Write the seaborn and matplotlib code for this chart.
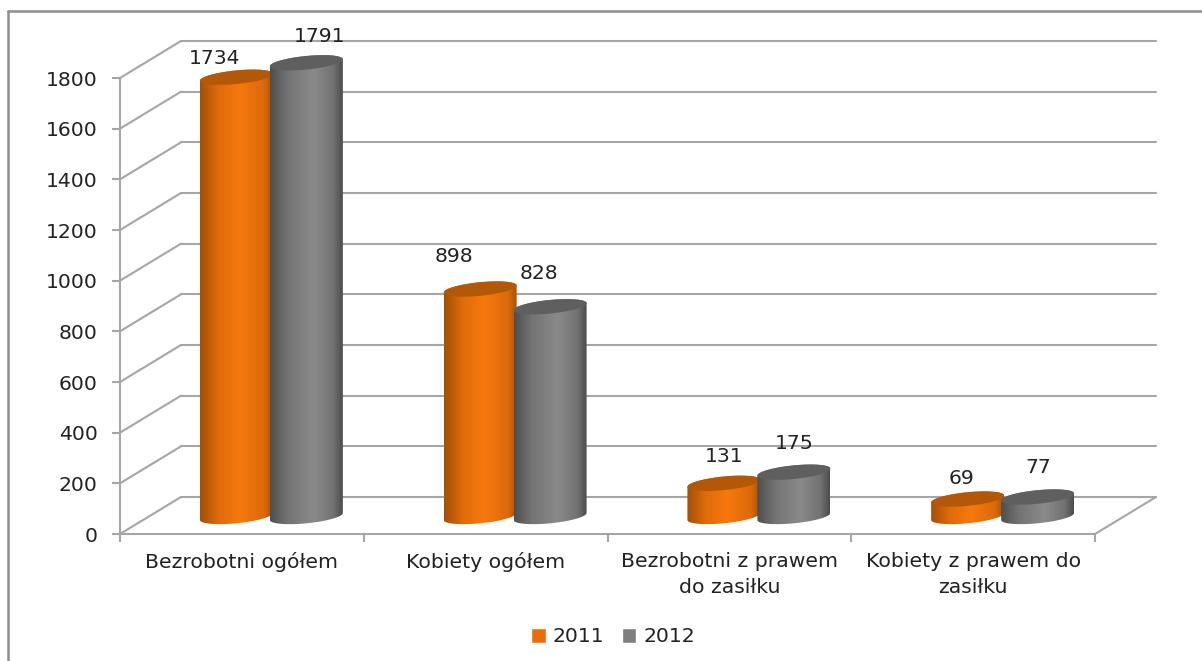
import numpy as np
import pandas as pd
import matplotlib
matplotlib.use('Agg')
import matplotlib.pyplot as plt
import seaborn as sns
from matplotlib.colors import LinearSegmentedColormap
from matplotlib.lines import Line2D
from matplotlib.patches import ConnectionPatch, Polygon

categories = ['Bezrobotni ogółem', 'Kobiety ogółem', 'Bezrobotni z prawem\ndo zasiłku', 'Kobiety z prawem do\nzasiłku']
years = ['2011', '2012']
values_2011 = [1734, 898, 131, 69]
values_2012 = [1791, 828, 175, 77]
y_ticks = [0, 200, 400, 600, 800, 1000, 1200, 1400, 1600, 1800]

W, H = 1202, 661
GRID = '#a6a6a6'
TEXT = '#222222'

sns.set_theme(style='white')
plt.rcParams['font.family'] = ['DejaVu Sans']

df = pd.DataFrame({
    'category': categories * 2,
    'year': [years[0]] * 4 + [years[1]] * 4,
    'value': values_2011 + values_2012,
})


# all three planes have the same size, only shifted for the fake depth
def plane(left, bottom_y, width=975, height=456):
    ax = fig.add_axes([left / W, 1 - bottom_y / H, width / W, height / H])
    ax.patch.set_alpha(0)
    ax.set_xlim(-0.5, 3.5)
    ax.set_ylim(0, 1800)
    return ax


fig = plt.figure(figsize=(W / 100, H / 100), dpi=100)
ax_back = plane(181, 497)
ax_front = plane(120, 534)
ax_bars = plane(149.5, 516.5)

# back wall
sns.despine(ax=ax_back, left=True, bottom=True)
ax_back.set_xticks([])
ax_back.set_yticks(y_ticks)
ax_back.tick_params(left=False, labelleft=False)
ax_back.grid(True, axis='y', color=GRID, lw=1.5)
for line in ax_back.get_ygridlines():
    line.set_clip_on(False)

# front axis
sns.despine(ax=ax_front)
for side in ['left', 'bottom']:
    ax_front.spines[side].set_color(GRID)
    ax_front.spines[side].set_linewidth(1.5)
ax_front.set_yticks(y_ticks)
ax_front.set_xticks(np.arange(-0.5, 4, 1))
ax_front.set_xticklabels([])
ax_front.set_xticks(range(4), categories, minor=True)
ax_front.tick_params(axis='both', which='major', length=6, width=1.5, color=GRID, bottom=True, left=True)
ax_front.tick_params(axis='y', labelsize=14.7, labelcolor=TEXT, pad=10)
ax_front.tick_params(axis='x', which='minor', length=0, labelsize=14.7, labelcolor=TEXT, pad=13)
for lab in ax_front.get_xticklabels(minor=True):
    lab.set_linespacing(1.45)

# diagonals between front and back
for v in y_ticks:
    fig.add_artist(ConnectionPatch((-0.5, v), (-0.5, v), ax_front.transData, ax_back.transData,
                                   color=GRID, lw=1.5))
fig.add_artist(ConnectionPatch((3.5, 0), (3.5, 0), ax_front.transData, ax_back.transData, color=GRID, lw=1.5))

# bars
sns.barplot(data=df, x='category', y='value', hue='year', order=categories, hue_order=years,
            palette=['#EA6C0A', '#7F7F7F'], saturation=1, width=0.574, gap=-0.043, errorbar=None, ax=ax_bars)
ax_bars.set_xlim(-0.5, 3.5)
ax_bars.set_ylim(0, 1800)
ax_bars.axis('off')

cmaps = [
    LinearSegmentedColormap.from_list('o', [(0, '#A35006'), (0.25, '#DE6B0A'), (0.55, '#F8780D'),
                                            (0.88, '#DC690A'), (1, '#A85206')], N=256),
    LinearSegmentedColormap.from_list('g', [(0, '#4F4F4F'), (0.25, '#747474'), (0.6, '#8A8A8A'),
                                            (0.87, '#727272'), (1, '#4C4C4C')], N=256),
]
top_colors = ['#B25808', '#5F5F5F']
px_y = 1800 / 456

t = np.linspace(0, 2 * np.pi, 120)
for i, container in enumerate(ax_bars.containers):
    for bar in container:
        bar.set_alpha(0)
        left, w, h = bar.get_x(), bar.get_width(), bar.get_height()
        cx = left + w / 2
        # ellipses lean a bit upwards to the right
        ex = cx + w / 2 * np.cos(t)
        ey = (6.8 * np.sin(t) + 3.5 * np.cos(t)) * px_y
        half = t <= np.pi
        lower = ~half
        # side of the cylinder: lower arc of the base and upper edge of the lid's far side
        outline = np.vstack([
            np.column_stack([ex[lower], ey[lower]]),
            np.column_stack([ex[half], ey[half] + h]),
        ])
        body = Polygon(outline, closed=True, fc='none', ec='none', zorder=2 + i)
        ax_bars.add_patch(body)
        im = ax_bars.imshow(np.linspace(0, 1, 256)[None, :], cmap=cmaps[i], aspect='auto', zorder=2 + i,
                            extent=[left, left + w, -40, h + 40], interpolation='bilinear')
        im.set_clip_path(body)
        im.set_clip_box(fig.bbox)
        ax_bars.add_patch(Polygon(np.column_stack([ex, ey + h]), closed=True, fc=top_colors[i], ec='none',
                                  zorder=2 + i, clip_on=False))
ax_bars.set_xlim(-0.5, 3.5)
ax_bars.set_ylim(0, 1800)

# labels were dragged by hand in the original, so they sit off centre
label_shift = [[(-22, 19), (-26, 33), (0, 27), (-6, 21)],
               [(13, 26), (-11, 33), (0, 29), (1, 29)]]
for container, shifts in zip(ax_bars.containers, label_shift):
    for bar, (dx, dy) in zip(container, shifts):
        ax_bars.annotate(f'{bar.get_height():.0f}', (bar.get_x() + bar.get_width() / 2, bar.get_height()),
                         xytext=(dx, dy), textcoords='offset pixels', ha='center', va='center',
                         fontsize=14.7, color=TEXT, annotation_clip=False, zorder=10)

sns.move_legend(ax_bars, 'center', bbox_to_anchor=(613 / W, 1 - 637 / H), bbox_transform=fig.transFigure,
                ncol=2, frameon=False, title=None, fontsize=14.7, labelcolor=TEXT, handlelength=0.72,
                handleheight=0.72, handletextpad=0.35, columnspacing=0.85)

# outer frame, only left and top survive in the original
fig.add_artist(Line2D([8 / W, 8 / W], [0, 1 - 11 / H], color='#8c8c8c', lw=1.8))
fig.add_artist(Line2D([8 / W, 1], [1 - 11 / H, 1 - 11 / H], color='#8c8c8c', lw=1.8))

fig.savefig('out.png', dpi=100)
